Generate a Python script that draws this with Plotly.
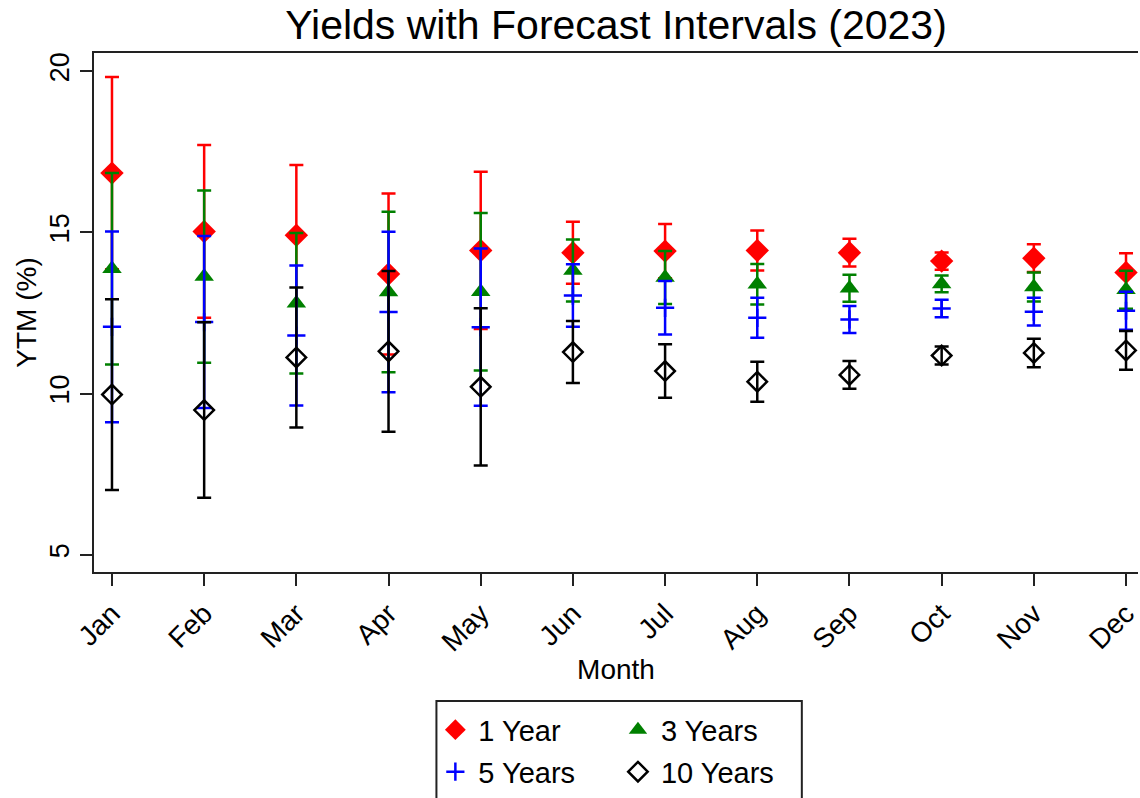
import plotly.graph_objects as go

months = ["Jan", "Feb", "Mar", "Apr", "May", "Jun", "Jul", "Aug", "Sep", "Oct", "Nov", "Dec"]

y1 = [16.84, 15.03, 14.91, 13.71, 14.44, 14.37, 14.42, 14.44, 14.37, 14.11, 14.20, 13.76]
e1 = [2.98, 2.68, 2.18, 2.50, 2.44, 0.96, 0.84, 0.62, 0.43, 0.27, 0.43, 0.59]

y3 = [13.87, 13.63, 12.80, 13.15, 13.16, 13.82, 13.60, 13.39, 13.27, 13.40, 13.31, 13.22]
e3 = [2.97, 2.67, 2.18, 2.49, 2.44, 0.96, 0.82, 0.63, 0.42, 0.26, 0.45, 0.59]

y5 = [12.07, 12.22, 11.80, 12.53, 12.06, 13.04, 12.66, 12.35, 12.30, 12.64, 12.54, 12.57]
e5 = [2.96, 2.67, 2.17, 2.49, 2.44, 0.97, 0.83, 0.62, 0.42, 0.27, 0.43, 0.59]

y10 = [9.97, 9.49, 11.12, 11.31, 10.21, 11.29, 10.70, 10.37, 10.58, 11.18, 11.26, 11.34]
e10 = [2.96, 2.72, 2.17, 2.49, 2.44, 0.96, 0.83, 0.62, 0.43, 0.28, 0.44, 0.60]

FONT = "Liberation Sans, Arial, sans-serif"

series = [
    ("1 Year", y1, e1, "#FF0000", dict(symbol="diamond", size=18, color="#FF0000"), "legend"),
    ("3 Years", y3, e3, "#008000", dict(symbol="triangle-up", size=17, color="#008000"), "legend2"),
    ("5 Years", y5, e5, "#0000FF", dict(symbol="cross-thin", size=13, color="#0000FF",
                                         line=dict(color="#0000FF", width=2.5)), "legend3"),
    ("10 Years", y10, e10, "#000000", dict(symbol="diamond-open", size=15, color="#000000",
                                           line=dict(color="#000000", width=2.5)), "legend4"),
]

fig = go.Figure()
for name, yv, ev, col, mk, lg in series:
    fig.add_trace(go.Scatter(
        x=months, y=yv, mode="markers", name=name, marker=mk, legend=lg,
        error_y=dict(type="data", array=ev, symmetric=True, color=col, thickness=2.5, width=7),
    ))

def leg(x, y):
    return dict(x=x, y=y, xanchor="left", yanchor="middle", xref="paper", yref="paper",
                bgcolor="rgba(0,0,0,0)", borderwidth=0, itemwidth=36,
                font=dict(family=FONT, size=29, color="black"))

fig.update_layout(
    width=1140, height=798,
    margin=dict(l=94, r=0, t=53, b=224),
    paper_bgcolor="white", plot_bgcolor="white",
    font=dict(family=FONT, color="black"),
    title=dict(text="Yields with Forecast Intervals (2023)", x=0.5, xref="paper",
               y=0.969, yref="container", yanchor="middle",
               font=dict(family=FONT, size=41, color="black")),
    legend=leg(0.3241, -0.304),
    legend2=leg(0.499, -0.304),
    legend3=leg(0.3241, -0.385),
    legend4=leg(0.499, -0.385),
    showlegend=True,
    shapes=[dict(type="rect", xref="paper", yref="paper", x0=0.328, x1=0.678,
                 y0=-0.45, y1=-0.2487, line=dict(color="#222222", width=2),
                 fillcolor="rgba(0,0,0,0)", layer="above")],
)

fig.update_xaxes(
    type="category", range=[-0.195, 11.13], showgrid=False, zeroline=False,
    showline=True, linecolor="#222222", linewidth=2, mirror=True,
    ticks="outside", ticklen=12, tickwidth=2, tickcolor="#222222",
    tickangle=-45, tickfont=dict(family=FONT, size=28, color="black"),
    title=dict(text="Month", font=dict(family=FONT, size=28, color="black"), standoff=3),
)
fig.update_yaxes(
    range=[4.466, 20.565], tickvals=[5, 10, 15, 20], ticktext=["5", "10", "15", "20"],
    showgrid=False, zeroline=False,
    showline=True, linecolor="#222222", linewidth=2,
    ticks="outside", ticklen=12, tickwidth=2, tickcolor="#222222",
    tickangle=-90, tickfont=dict(family=FONT, size=27, color="black"),
    title=dict(text="YTM (%)", font=dict(family=FONT, size=28, color="black"), standoff=0),
)

fig.write_html("out.html")
